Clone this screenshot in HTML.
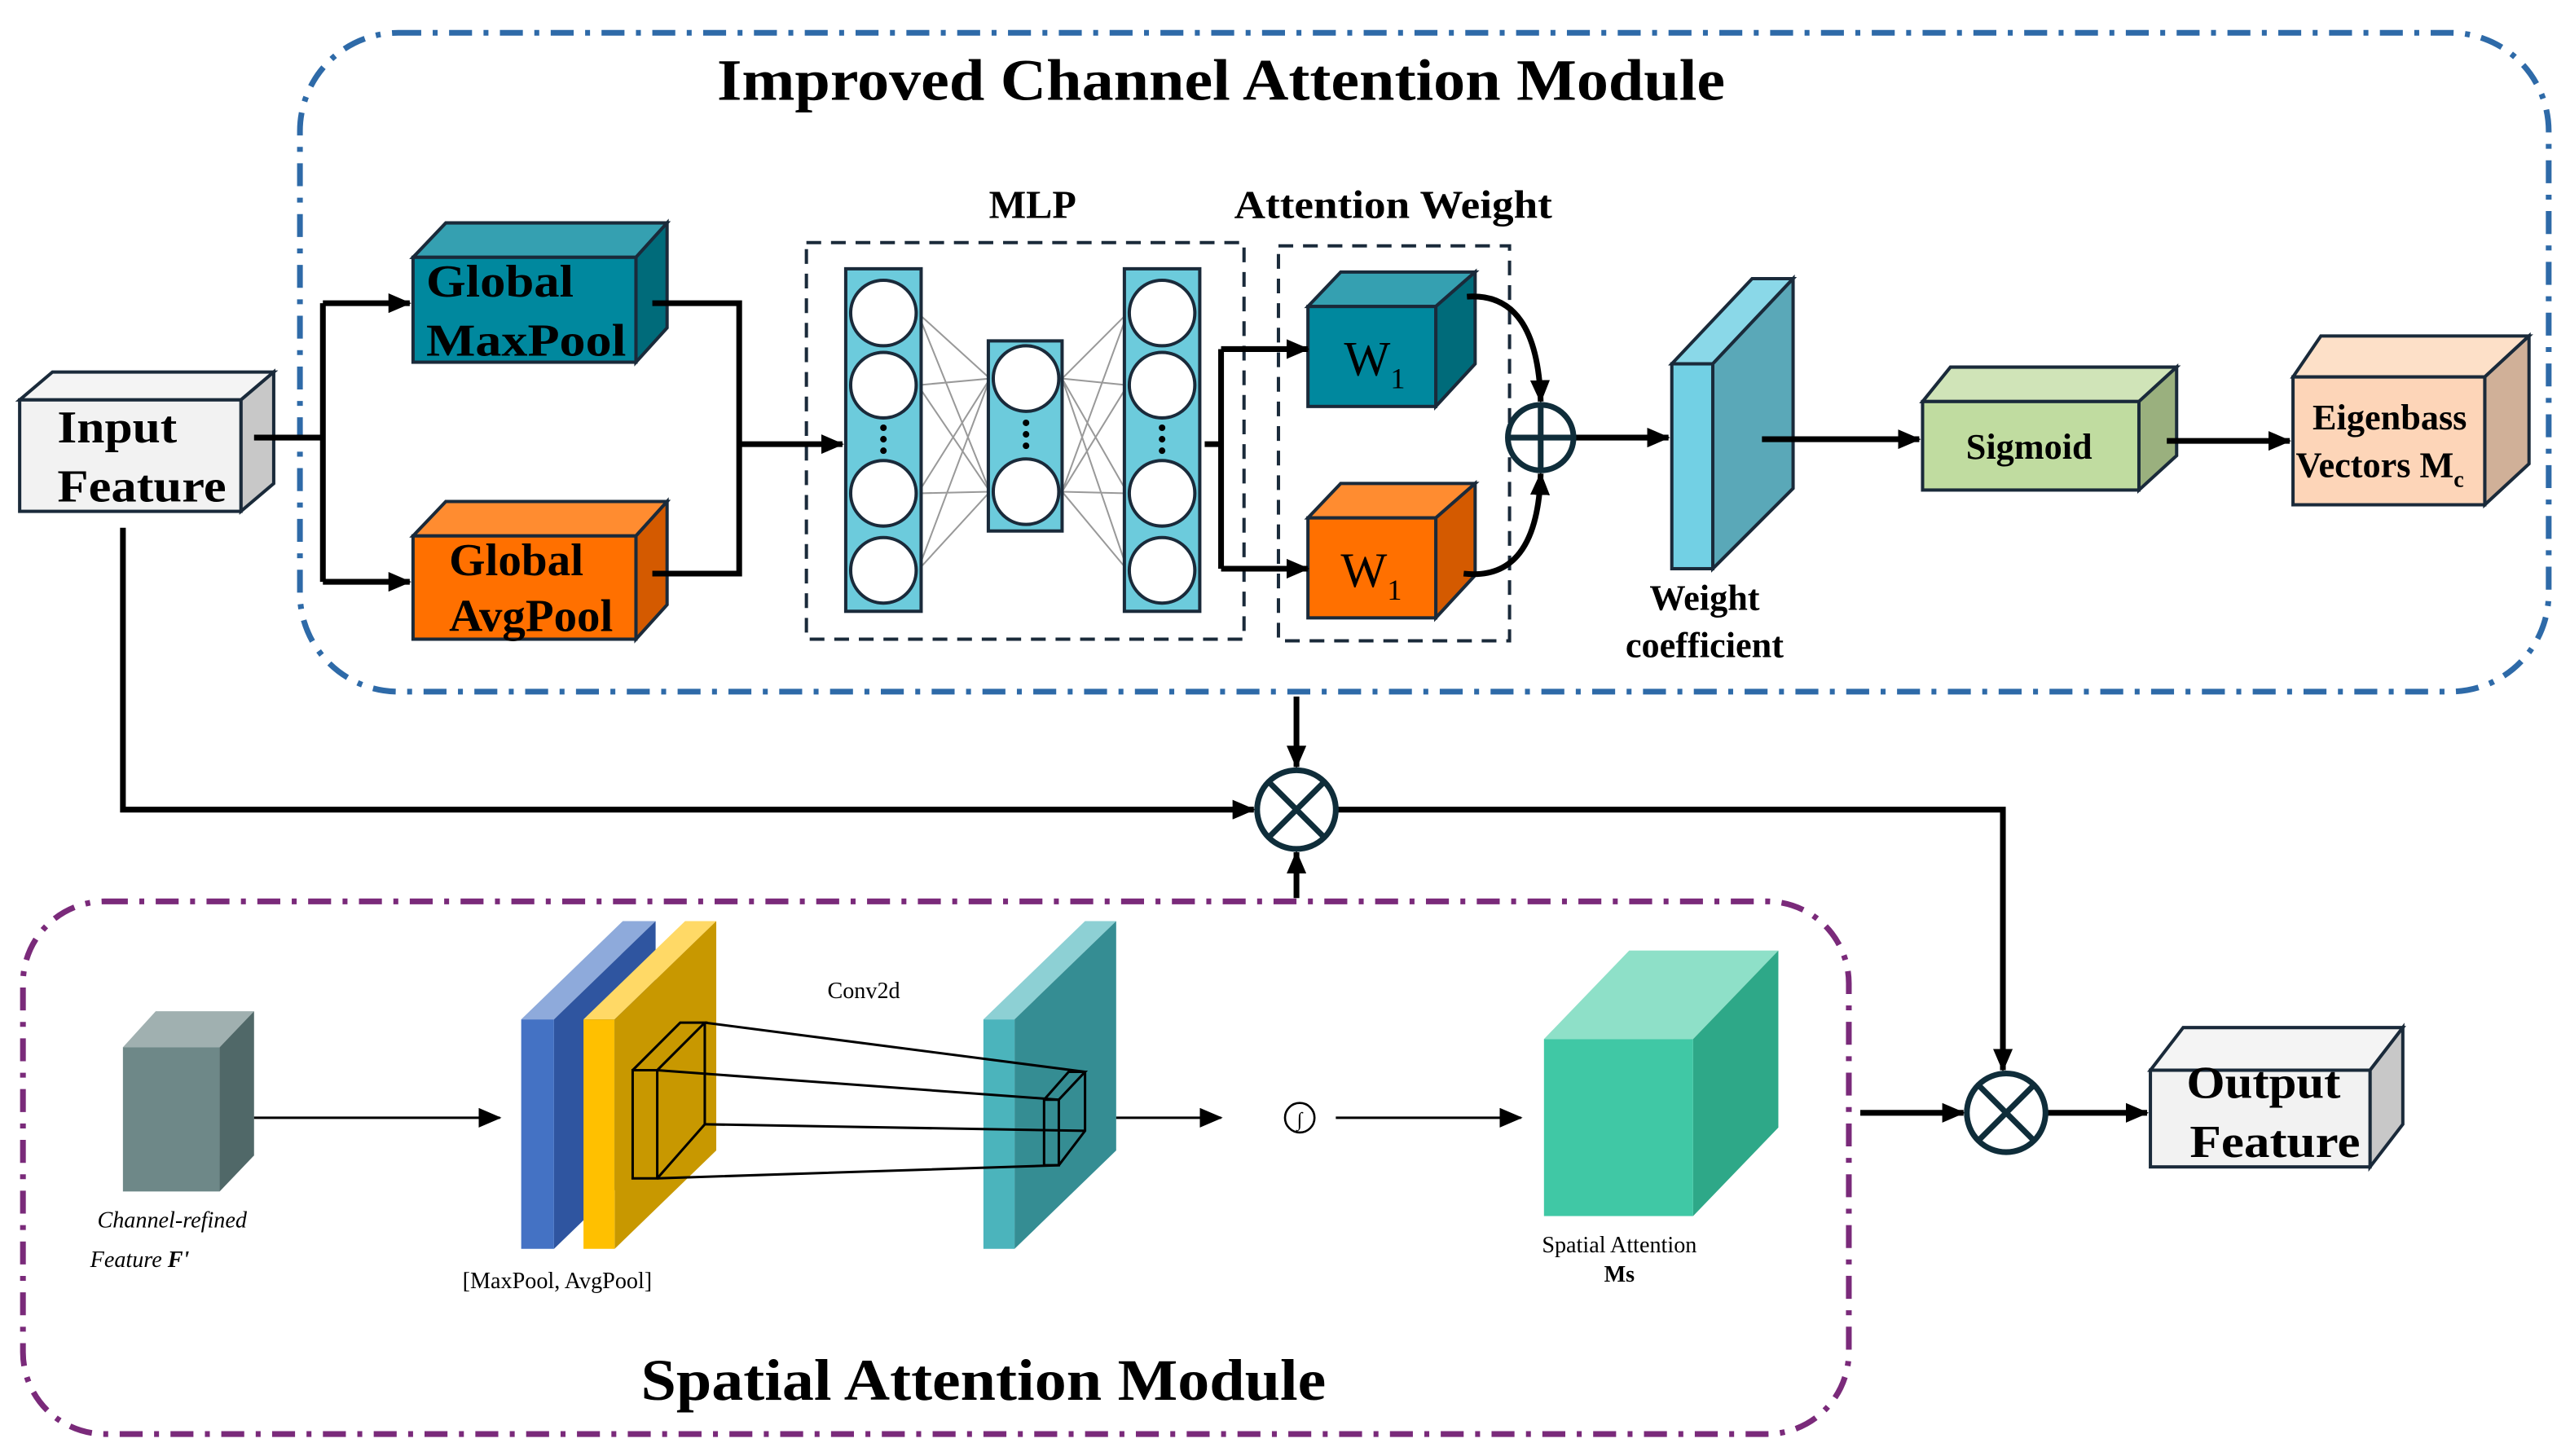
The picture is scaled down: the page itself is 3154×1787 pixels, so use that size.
<!DOCTYPE html>
<html><head><meta charset="utf-8"><style>html,body{margin:0;padding:0;background:#fff}svg{display:block}svg text{font-family:"Liberation Serif",serif}</style></head>
<body>
<svg width="3154" height="1787" viewBox="0 0 1568 888.4" xmlns="http://www.w3.org/2000/svg">
<defs>
<marker id="a2" markerWidth="14" markerHeight="12" refX="13" refY="6" orient="auto" markerUnits="userSpaceOnUse"><path d="M0,0 L14,6 L0,12 z" fill="#000"/></marker>
</defs>
<rect width="1568" height="888.4" fill="#fff"/>
<rect x="183" y="20" width="1372" height="402" rx="60" fill="none" stroke="#2e6aa8" stroke-width="3.5" stroke-dasharray="14,7,3,7"/>
<rect x="14" y="550" width="1114" height="325" rx="50" fill="none" stroke="#7a2a7a" stroke-width="3.5" stroke-dasharray="14,7,3,7"/>
<text x="745" y="61" font-size="36" font-weight="bold" text-anchor="middle" textLength="615" lengthAdjust="spacingAndGlyphs">Improved Channel Attention Module</text>
<text x="600" y="854" font-size="36" font-weight="bold" text-anchor="middle" textLength="418" lengthAdjust="spacingAndGlyphs">Spatial Attention Module</text>

<g stroke="#1a2a3a" stroke-width="2">
<polygon points="12,244 32,227 167,227 147,244" fill="#f4f4f4"/>
<polygon points="147,244 167,227 167,295 147,312" fill="#c8c8c8"/>
<rect x="12" y="244" width="135" height="68" fill="#f2f2f2"/>
<polygon points="252,157 272,136 407,136 388,157" fill="#35a0b1"/>
<polygon points="388,157 407,136 407,200 388,221" fill="#006b7a"/>
<rect x="252" y="157" width="136" height="64" fill="#00889e"/>
<polygon points="252,327 272,306 407,306 388,327" fill="#ff8c30"/>
<polygon points="388,327 407,306 407,369 388,390" fill="#d45a00"/>
<rect x="252" y="327" width="136" height="63" fill="#ff7000"/>
<polygon points="798,187 818,166 900,166 876,187" fill="#35a0b1"/>
<polygon points="876,187 900,166 900,222 876,248" fill="#006b7a"/>
<rect x="798" y="187" width="78" height="61" fill="#00889e"/>
<polygon points="798,316 818,295 900,295 876,316" fill="#ff8c30"/>
<polygon points="876,316 900,295 900,351 876,377" fill="#d45a00"/>
<rect x="798" y="316" width="78" height="61" fill="#ff7000"/>
<polygon points="1020,222 1069,170 1094,170 1045,222" fill="#8ad8e8"/>
<polygon points="1045,222 1094,170 1094,298 1045,347" fill="#5aa8b8"/>
<rect x="1020" y="222" width="25" height="125" fill="#72d0e4"/>
<polygon points="1173,245 1190,224 1328,224 1305,245" fill="#d0e4b8"/>
<polygon points="1305,245 1328,224 1328,278 1305,299" fill="#9ab07e"/>
<rect x="1173" y="245" width="132" height="54" fill="#c0dca0"/>
<polygon points="1399,230 1416,205 1543,205 1516,230" fill="#fde0c8"/>
<polygon points="1516,230 1543,205 1543,283 1516,308" fill="#d0b098"/>
<rect x="1399" y="230" width="117" height="78" fill="#fdd5b8"/>
<polygon points="1312,653 1332,627 1466,627 1446,653" fill="#f4f4f4"/>
<polygon points="1446,653 1466,627 1466,686 1446,712" fill="#c8c8c8"/>
<rect x="1312" y="653" width="134" height="59" fill="#f2f2f2"/>
</g>

<g font-weight="bold" fill="#000">
<text x="35" y="270" font-size="28" textLength="73" lengthAdjust="spacingAndGlyphs">Input</text>
<text x="35" y="306" font-size="28" textLength="103" lengthAdjust="spacingAndGlyphs">Feature</text>
<text x="260" y="181" font-size="28" textLength="90" lengthAdjust="spacingAndGlyphs">Global</text>
<text x="260" y="217" font-size="28" textLength="122" lengthAdjust="spacingAndGlyphs">MaxPool</text>
<text x="274" y="351" font-size="28" textLength="82" lengthAdjust="spacingAndGlyphs">Global</text>
<text x="274" y="385" font-size="28" textLength="100" lengthAdjust="spacingAndGlyphs">AvgPool</text>
<text x="630" y="133" font-size="24" text-anchor="middle">MLP</text>
<text x="850" y="133" font-size="24" text-anchor="middle" textLength="194" lengthAdjust="spacingAndGlyphs">Attention Weight</text>
<text x="1040" y="372" font-size="22" text-anchor="middle">Weight</text>
<text x="1040" y="401" font-size="22" text-anchor="middle">coefficient</text>
<text x="1238" y="280" font-size="22" text-anchor="middle">Sigmoid</text>
<text x="1458" y="262" font-size="22" text-anchor="middle">Eigenbass</text>
<text x="1452" y="291" font-size="22" text-anchor="middle">Vectors M<tspan font-size="14" dy="6">c</tspan></text>
<text x="1334" y="670" font-size="28" textLength="94" lengthAdjust="spacingAndGlyphs">Output</text>
<text x="1336" y="706" font-size="28" textLength="104" lengthAdjust="spacingAndGlyphs">Feature</text>
</g>
<g font-size="30" fill="#000">
<text x="820" y="229">W<tspan font-size="18" dy="8">1</tspan></text>
<text x="818" y="358">W<tspan font-size="18" dy="8">1</tspan></text>
</g>

<rect x="492" y="148" width="267" height="242" fill="none" stroke="#1a2a3a" stroke-width="2" stroke-dasharray="9,6"/>
<rect x="780" y="150" width="141" height="241" fill="none" stroke="#1a2a3a" stroke-width="2" stroke-dasharray="9,6"/>
<g stroke="#999" stroke-width="1">
<path d="M560,191 L604,231 M560,191 L604,300 M560,235 L604,231 M560,235 L604,300 M560,301 L604,231 M560,301 L604,300 M560,348 L604,231 M560,348 L604,300"/>
<path d="M648,231 L688,191 M648,231 L688,235 M648,231 L688,301 M648,231 L688,348 M648,300 L688,191 M648,300 L688,235 M648,300 L688,301 M648,300 L688,348"/>
</g>
<g stroke="#1a2a3a" stroke-width="2">
<rect x="516" y="164" width="46" height="209" fill="#6ccbdc"/>
<rect x="603" y="208" width="45" height="116" fill="#6ccbdc"/>
<rect x="686" y="164" width="46" height="209" fill="#6ccbdc"/>
<g fill="#fff">
<circle cx="539" cy="191" r="20"/><circle cx="539" cy="235" r="20"/><circle cx="539" cy="301" r="20"/><circle cx="539" cy="348" r="20"/>
<circle cx="626" cy="231" r="20"/><circle cx="626" cy="300" r="20"/>
<circle cx="709" cy="191" r="20"/><circle cx="709" cy="235" r="20"/><circle cx="709" cy="301" r="20"/><circle cx="709" cy="348" r="20"/>
</g></g>
<g fill="#000">
<circle cx="539" cy="261" r="2"/><circle cx="539" cy="268" r="2"/><circle cx="539" cy="275" r="2"/>
<circle cx="626" cy="258" r="2"/><circle cx="626" cy="265" r="2"/><circle cx="626" cy="272" r="2"/>
<circle cx="709" cy="261" r="2"/><circle cx="709" cy="268" r="2"/><circle cx="709" cy="275" r="2"/>
</g>

<g stroke="#000" stroke-width="3.5" fill="none">
<path d="M155,267 H197"/>
<path d="M197,185 V355"/>
<path d="M197,185 H250" marker-end="url(#a2)"/>
<path d="M197,355 H250" marker-end="url(#a2)"/>
<path d="M398,185 H451 V350 H398"/>
<path d="M451,271 H514" marker-end="url(#a2)"/>
<path d="M735,271 H745"/>
<path d="M745,213 V347"/>
<path d="M745,213 H798" marker-end="url(#a2)"/>
<path d="M745,347 H798" marker-end="url(#a2)"/>
<path d="M895,181 Q938,178 940,245" marker-end="url(#a2)"/>
<path d="M893,350 Q938,355 940,289" marker-end="url(#a2)"/>
<path d="M960,267 H1018" marker-end="url(#a2)"/>
<path d="M1075,268 H1171" marker-end="url(#a2)"/>
<path d="M1322,269 H1397" marker-end="url(#a2)"/>
<path d="M791,425 V468" marker-end="url(#a2)"/>
<path d="M75,322 V494 H765" marker-end="url(#a2)"/>
<path d="M791,548 V520" marker-end="url(#a2)"/>
<path d="M815,494 H1222 V653" marker-end="url(#a2)"/>
<path d="M1135,679 H1198" marker-end="url(#a2)"/>
<path d="M1248,679 H1310" marker-end="url(#a2)"/>
</g>
<g stroke="#0f2d3a" stroke-width="3.5" fill="#fff">
<circle cx="940" cy="267" r="20"/>
<path d="M920,267 H960 M940,247 V287" fill="none"/>
<circle cx="791" cy="494" r="24"/>
<path d="M774,477 L808,511 M808,477 L774,511" fill="none"/>
<circle cx="1224" cy="679" r="24"/>
<path d="M1207,662 L1241,696 M1241,662 L1207,696" fill="none"/>
</g>

<polygon points="75,639 95,617 155,617 134,639" fill="#a0b0b0"/>
<polygon points="134,639 155,617 155,705 134,727" fill="#506868"/>
<rect x="75" y="639" width="59" height="88" fill="#6e8888"/>
<g font-size="14" font-style="italic"><text x="105" y="749" text-anchor="middle">Channel-refined</text><text x="55" y="773">Feature <tspan font-weight="bold">F'</tspan></text></g>
<path d="M155,682 H305" stroke="#000" stroke-width="1.5" marker-end="url(#a2)"/>
<polygon points="318,622 380,562 400,562 338,622" fill="#8eaadb"/>
<polygon points="338,622 400,562 400,702 338,762" fill="#2f55a0"/>
<rect x="318" y="622" width="20" height="140" fill="#4472c4"/>
<polygon points="356,622 418,562 437,562 375,622" fill="#ffd966"/>
<polygon points="375,622 437,562 437,702 375,762" fill="#c89800"/>
<rect x="356" y="622" width="19" height="140" fill="#ffc000"/>
<polygon points="600,622 662,562 681,562 619,622" fill="#8dd0d4"/>
<polygon points="619,622 681,562 681,702 619,762" fill="#358d93"/>
<rect x="600" y="622" width="19" height="140" fill="#4bb4bc"/>
<g stroke="#000" stroke-width="1.5" fill="none">
<rect x="386" y="653" width="15" height="66"/>
<path d="M386,653 L415,624 H430 L401,653 M430,624 V686 L401,719"/>
<rect x="637" y="671" width="9" height="40"/>
<path d="M637,671 L652,654 H662 L646,671 M662,654 V690 L646,711"/>
<path d="M430,624 L662,654 M401,653 L646,671 M430,686 L662,690 M401,719 L646,711"/>
</g>
<text x="527" y="609" font-size="14" text-anchor="middle">Conv2d</text>
<text x="340" y="786" font-size="14" text-anchor="middle">[MaxPool, AvgPool]</text>
<path d="M681,682 H745" stroke="#000" stroke-width="1.5" marker-end="url(#a2)"/>
<circle cx="793" cy="682" r="9" fill="#fff" stroke="#000" stroke-width="1.3"/>
<text x="793" y="687" font-size="12" text-anchor="middle">∫</text>
<path d="M815,682 H928" stroke="#000" stroke-width="1.5" marker-end="url(#a2)"/>
<polygon points="942,634 994,580 1085,580 1033,634" fill="#8ee0c8"/>
<polygon points="1033,634 1085,580 1085,688 1033,742" fill="#2ea888"/>
<rect x="942" y="634" width="91" height="108" fill="#40c8a5"/>
<text x="988" y="764" font-size="14" text-anchor="middle">Spatial Attention</text>
<text x="988" y="782" font-size="14" text-anchor="middle" font-weight="bold">Ms</text>
</svg>
</body></html>
